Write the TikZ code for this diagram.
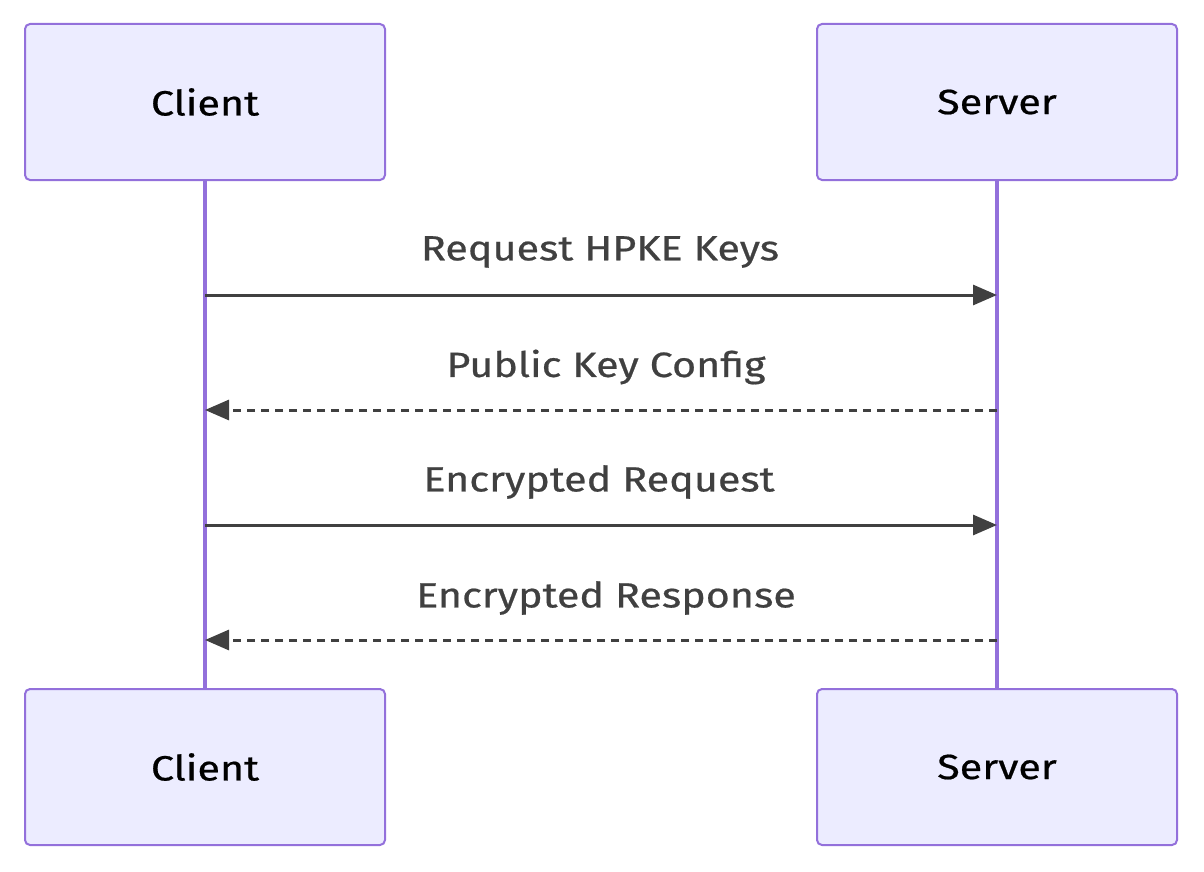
\documentclass[tikz,border=0pt]{standalone}
\usepackage{fontspec}
\setmainfont{Fira Sans}[FakeStretch=1.18,FakeBold=0.6]
\usetikzlibrary{arrows.meta}
\definecolor{boxfill}{HTML}{ECECFF}
\definecolor{boxline}{HTML}{9370DB}
\definecolor{msg}{HTML}{404040}
\tikzset{
 actor/.style={draw=boxline,fill=boxfill,line width=2pt,rounded corners=5pt,minimum width=360pt,minimum height=156pt,font=\fontsize{35}{40}\selectfont,text=black},
 life/.style={draw=boxline,line width=3.5pt},
 sync/.style={draw=msg,line width=3pt,-{Triangle[length=24pt,width=20pt]}},
 reply/.style={sync,dash pattern=on 8pt off 6pt},
 lbl/.style={font=\fontsize{35}{40}\selectfont,text=msg}
}
\begin{document}
\begin{tikzpicture}[x=1pt,y=-1pt]
\useasboundingbox (0,0) rectangle (1204,872);
\draw[life] (205,180) -- (205,689);
\draw[life] (997,180) -- (997,689);
\node[actor] (c1) at (205,102) {Client};
\node[actor] (s1) at (997,102) {Server};
\node[actor] (c2) at (205,767) {Client};
\node[actor] (s2) at (997,767) {Server};
\coordinate (a1) at (205,295); \coordinate (b1) at (997,295);
\coordinate (a2) at (205,410); \coordinate (b2) at (997,410);
\coordinate (a3) at (205,525); \coordinate (b3) at (997,525);
\coordinate (a4) at (205,640); \coordinate (b4) at (997,640);
\draw[sync] (a1) -- (b1);
\draw[reply] (b2) -- (a2);
\draw[sync] (a3) -- (b3);
\draw[reply] (b4) -- (a4);
\node[lbl] (l1) at (600,252) {Request HPKE Keys};
\node[lbl] (l2) at (606,367) {Public Key Config};
\node[lbl] (l3) at (599,482) {Encrypted Request};
\node[lbl] (l4) at (606,598) {Encrypted Response};
\end{tikzpicture}
\end{document}
